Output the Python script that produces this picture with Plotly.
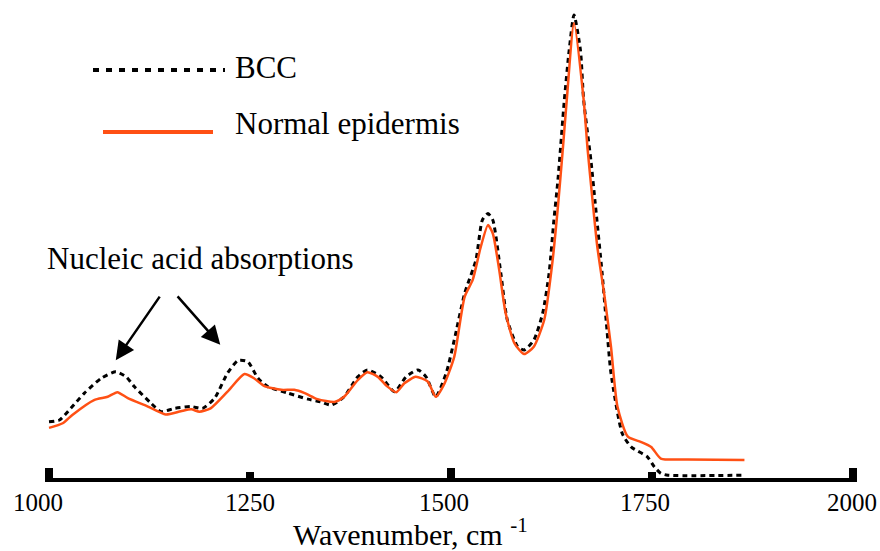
import plotly.graph_objects as go

# ---- data (intensity in arbitrary units, BCC peak ~100) ----
bcc_wavenumber = [1000, 1013, 1027, 1044, 1065, 1083, 1096, 1106, 1127, 1139, 1156, 1177, 1191,
                  1206, 1222, 1235, 1247, 1260, 1272, 1297, 1322, 1338, 1351, 1367, 1384, 1396,
                  1413, 1430, 1444, 1459, 1469, 1481, 1494, 1504, 1517, 1531, 1539, 1546, 1552,
                  1562, 1570, 1583, 1591, 1603, 1614, 1622, 1628, 1633, 1641, 1647, 1653, 1661,
                  1665, 1674, 1679, 1688, 1694, 1699, 1713, 1724, 1744, 1753, 1761, 1770, 1865]
bcc_intensity = [12.1, 12.5, 15.0, 18.3, 21.5, 22.9, 21.8, 19.7, 16.1, 14.3, 15.0, 15.4, 15.0,
                 17.2, 22.6, 25.3, 25.1, 21.5, 19.7, 18.3, 17.0, 16.4, 15.7, 17.5, 21.8, 23.3,
                 21.8, 18.6, 21.8, 23.3, 21.8, 17.5, 22.6, 29.7, 39.8, 47.0, 55.6, 57.0, 55.6,
                 44.1, 34.1, 28.3, 27.6, 29.7, 35.5, 44.1, 55.6, 64.2, 81.5, 92.2, 99.8, 92.2,
                 81.5, 68.5, 59.9, 44.1, 31.9, 22.6, 9.6, 6.7, 4.6, 2.4, 1.0, 0.6, 0.6]

normal_wavenumber = [1000, 1017, 1029, 1056, 1073, 1085, 1098, 1123, 1145, 1164, 1177, 1187, 1201,
                     1222, 1243, 1255, 1268, 1289, 1305, 1318, 1334, 1355, 1367, 1384, 1396, 1409,
                     1421, 1432, 1442, 1456, 1471, 1481, 1492, 1504, 1517, 1527, 1537, 1546, 1552,
                     1560, 1568, 1579, 1591, 1603, 1616, 1626, 1633, 1639, 1644, 1653, 1665, 1670,
                     1676, 1682, 1691, 1699, 1707, 1720, 1736, 1749, 1761, 1794, 1865]
normal_intensity = [10.8, 11.8, 13.6, 16.8, 17.5, 18.5, 17.2, 15.4, 13.7, 14.4, 14.8, 14.3, 15.0,
                    18.6, 22.4, 21.5, 19.8, 19.0, 19.0, 18.3, 17.0, 16.4, 17.5, 21.1, 22.8, 21.8,
                    19.7, 18.5, 20.4, 21.8, 20.8, 17.5, 20.4, 26.1, 39.1, 42.7, 49.8, 54.5, 52.7,
                    44.8, 35.5, 29.0, 26.7, 28.3, 34.1, 46.3, 58.5, 70.7, 81.5, 98.0, 81.5, 70.7,
                    59.9, 49.8, 39.1, 28.3, 15.4, 8.9, 7.8, 6.7, 4.2, 4.0, 3.9]

tick_values = [1000, 1250, 1500, 1750, 2000]
tick_labels = ["1000", "1250", "1500", "1750", "2000"]
major_ticks = [1000, 1500, 2000]
minor_ticks = [1250, 1750]

series_names = ["BCC", "Normal epidermis"]
annotation_text = "Nucleic acid absorptions"
x_title = "Wavenumber, cm <sup>-1</sup>"

# ---- layout helpers ----
W, H = 880, 551
X_RANGE = [995, 2005]
ML, MR, MT, MB = 45, 23, 10, 73
PW, PH = W - ML - MR, H - MT - MB
FONT = "Liberation Serif"
ORANGE = "#FF5014"
LABEL_SHIFT = [-11, 0, -7, -7, -1]  # horizontal offsets of tick labels in the original


def px(x):
    return (x - ML) / PW


def py(y):
    return (H - MB - y) / PH


fig = go.Figure()
fig.add_trace(go.Scatter(x=bcc_wavenumber, y=bcc_intensity, mode="lines", name=series_names[0],
                         line=dict(color="black", width=3, dash="5px,4px", shape="spline", smoothing=0.6),
                         showlegend=False, hoverinfo="skip"))
fig.add_trace(go.Scatter(x=normal_wavenumber, y=normal_intensity, mode="lines", name=series_names[1],
                         line=dict(color=ORANGE, width=2.5, shape="spline", smoothing=0.6),
                         showlegend=False, hoverinfo="skip"))

shapes = [
    dict(type="line", xref="paper", yref="paper", x0=px(93), x1=px(225), y0=py(70), y1=py(70),
         line=dict(color="black", width=4, dash="6px,7px")),
    dict(type="line", xref="paper", yref="paper", x0=px(103), x1=px(213), y0=py(132), y1=py(132),
         line=dict(color=ORANGE, width=4)),
]

txt_font = dict(size=31, color="black", family=FONT)
annotations = [
    dict(text=series_names[0], xref="paper", yref="paper", x=px(233), y=py(67),
         xanchor="left", yanchor="middle", showarrow=False, font=txt_font),
    dict(text=series_names[1], xref="paper", yref="paper", x=px(233), y=py(123),
         xanchor="left", yanchor="middle", showarrow=False, font=txt_font),
    dict(text=annotation_text, xref="paper", yref="paper", x=px(45), y=py(258),
         xanchor="left", yanchor="middle", showarrow=False, font=txt_font),
    dict(text=x_title, xref="paper", yref="paper", x=px(410), y=py(532),
         xanchor="center", yanchor="middle", showarrow=False,
         font=dict(size=30, color="black", family=FONT)),
    dict(text="", x=1083, y=25.4, xref="x", yref="y", ax=45, ay=-65, axref="pixel", ayref="pixel",
         showarrow=True, arrowhead=2, arrowsize=1.5, arrowwidth=2.5, arrowcolor="black", standoff=0),
    dict(text="", x=1213, y=28.7, xref="x", yref="y", ax=-44, ay=-50, axref="pixel", ayref="pixel",
         showarrow=True, arrowhead=2, arrowsize=1.5, arrowwidth=2.5, arrowcolor="black", standoff=0),
]
for tv, tl, sh in zip(tick_values, tick_labels, LABEL_SHIFT):
    annotations.append(dict(text=tl, x=tv, xref="x", yref="paper", y=py(502), xshift=sh,
                            xanchor="center", yanchor="middle", showarrow=False,
                            font=dict(size=25, color="black", family=FONT)))

fig.update_layout(
    width=W, height=H,
    margin=dict(l=ML, r=MR, t=MT, b=MB, autoexpand=False),
    paper_bgcolor="white", plot_bgcolor="white",
    font=dict(family=FONT, color="black"),
    shapes=shapes, annotations=annotations,
    hovermode=False,
    xaxis=dict(range=X_RANGE, showgrid=False, zeroline=False, automargin=False,
               showline=True, linecolor="black", linewidth=4,
               tickmode="array", tickvals=major_ticks, showticklabels=False,
               ticks="inside", ticklen=10, tickwidth=8, tickcolor="black",
               minor=dict(tickmode="array", tickvals=minor_ticks, ticks="inside",
                          ticklen=6, tickwidth=8, tickcolor="black", showgrid=False)),
    yaxis=dict(range=[0, PH / 4.64], visible=False, showgrid=False, zeroline=False, automargin=False),
)

fig.write_html("out.html", config={"displayModeBar": False},
               post_script="document.body.style.margin='0';")
